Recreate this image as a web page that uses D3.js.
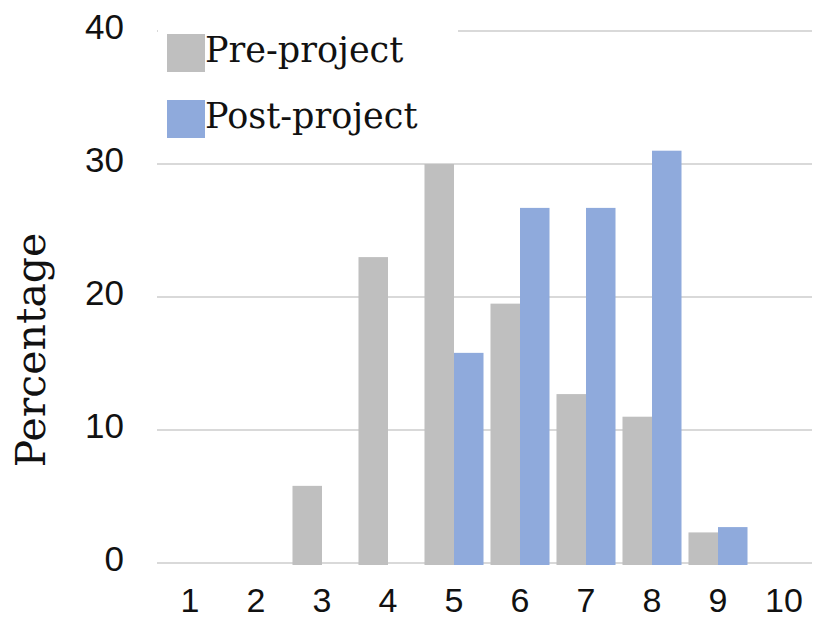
<!DOCTYPE html>
<html>
<head>
<meta charset="utf-8">
<script src="https://cdn.jsdelivr.net/npm/d3@7"></script>
<style>
  html, body { margin: 0; padding: 0; background: #fff; }
  svg { display: block; font-family: "DejaVu Serif", serif; }
  .tick-label { font-family: "Liberation Sans", Arial, sans-serif; }
</style>
</head>
<body>
<svg id="chart" width="817" height="621"></svg>
<script>
// Score distribution before and after the project (percent of respondents)
const categories = ["1", "2", "3", "4", "5", "6", "7", "8", "9", "10"];
const preProject  = [0, 0, 5.8, 23.0, 30.0, 19.5, 12.7, 11.0, 2.3, 0];
const postProject = [0, 0, 0, 0, 15.8, 26.7, 26.7, 31.0, 2.7, 0];
const yTicks = [0, 10, 20, 30, 40];
const seriesNames = ["Pre-project", "Post-project"];
const seriesColors = ["#bfbfbf", "#8faadc"];

const svg = d3.select("#chart");
const plotLeft = 157, plotRight = 817, plotTop = 31, plotBottom = 563;

const x = d3.scaleBand().domain(categories).range([plotLeft, plotRight])
  .paddingInner(0.106).paddingOuter(0.053);
const xSub = d3.scaleBand().domain(seriesNames).range([0, x.bandwidth()]);
const y = d3.scaleLinear().domain([0, 40]).range([plotBottom, plotTop]);

// horizontal gridlines
svg.append("g").selectAll("line").data(yTicks).join("line")
  .attr("x1", plotLeft).attr("x2", plotRight - 5)
  .attr("y1", d => y(d)).attr("y2", d => y(d))
  .attr("stroke", "#d9d9d9").attr("stroke-width", 2);

// bars
const rows = categories.map((c, i) => ({ c, vals: [preProject[i], postProject[i]] }));
const groups = svg.append("g").selectAll("g").data(rows).join("g")
  .attr("transform", d => `translate(${x(d.c)},0)`);
groups.selectAll("rect")
  .data(d => d.vals.map((v, j) => ({ v, name: seriesNames[j], color: seriesColors[j] })).filter(e => e.v > 0))
  .join("rect")
  .attr("x", d => xSub(d.name))
  .attr("width", xSub.bandwidth())
  .attr("y", d => y(d.v))
  .attr("height", d => y(0) - y(d.v) + 2)
  .attr("fill", d => d.color);

// y tick labels
svg.append("g").selectAll("text").data(yTicks).join("text")
  .attr("class", "tick-label")
  .attr("x", 124).attr("y", d => y(d) + 8)
  .attr("text-anchor", "end")
  .attr("font-size", 35).attr("fill", "#111")
  .text(d => d);

// x tick labels
svg.append("g").selectAll("text").data(categories).join("text")
  .attr("class", "tick-label")
  .attr("x", d => x(d) + x.bandwidth() / 2).attr("y", 612)
  .attr("text-anchor", "middle")
  .attr("font-size", 34).attr("fill", "#111")
  .text(d => d);

// y axis title
svg.append("text")
  .attr("transform", `translate(45,350) rotate(-90)`)
  .attr("text-anchor", "middle")
  .attr("font-size", 41).attr("fill", "#111")
  .text("Percentage");

// legend with white backing
const legend = svg.append("g");
legend.append("rect").attr("x", 158).attr("y", 20).attr("width", 300).attr("height", 125).attr("fill", "#fff");
const items = legend.selectAll("g").data(seriesNames).join("g")
  .attr("transform", (d, i) => `translate(167,${34 + i * 66})`);
items.append("rect").attr("width", 38).attr("height", 38)
  .attr("fill", (d, i) => seriesColors[i]);
items.append("text").attr("x", 38).attr("y", 28)
  .attr("font-size", 35).attr("fill", "#111")
  .text(d => d);
</script>
</body>
</html>
